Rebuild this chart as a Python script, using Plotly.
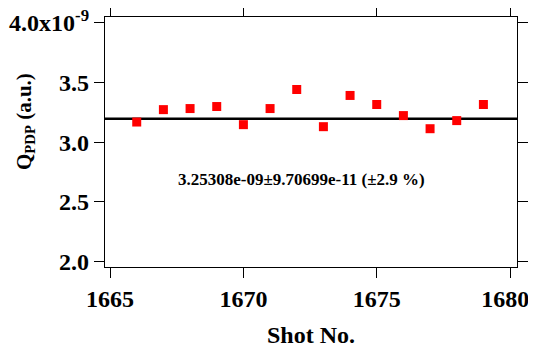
import plotly.graph_objects as go

shots = [1666, 1667, 1668, 1669, 1670, 1671, 1672, 1673, 1674, 1675, 1676, 1677, 1678, 1679]
q_pdp = [3.169e-9, 3.273e-9, 3.282e-9, 3.299e-9, 3.147e-9, 3.282e-9, 3.442e-9,
         3.130e-9, 3.392e-9, 3.316e-9, 3.223e-9, 3.113e-9, 3.181e-9, 3.316e-9]
fit_level = 3.197e-9
fit_text = "3.25308e-09±9.70699e-11 (±2.9 %)"
x_ticks = [1665, 1670, 1675, 1680]
x_ticktext = ["1665", "1670", "1675", "1680\u2009\u2009"]
y_ticks = [2.0e-9, 2.5e-9, 3.0e-9, 3.5e-9, 4.0e-9]
y_ticktext = ["2.0", "2.5", "3.0", "3.5", "4.0x10<sup>-9</sup>"]
x_range = [1664.81, 1680.26]
y_range = [1.953e-9, 4.05e-9]

font_family = "Liberation Serif"

fig = go.Figure()
fig.add_trace(go.Scatter(
    x=x_range, y=[fit_level, fit_level], mode="lines",
    line=dict(color="black", width=2.5), showlegend=False, hoverinfo="skip"))
fig.add_trace(go.Scatter(
    x=shots, y=q_pdp, mode="markers",
    marker=dict(symbol="square", size=9, color="#ff0000", line=dict(width=0)),
    showlegend=False))

fig.add_annotation(x=1672.18, y=2.685e-9, text="<b>" + fit_text + "</b>", showarrow=False,
                   font=dict(family=font_family, size=17, color="black"),
                   xanchor="center", yanchor="middle")

# axis titles as paper annotations
fig.add_annotation(xref="paper", yref="paper", x=0.5, y=0, yshift=-68,
                   text="<b>Shot No.</b>", showarrow=False,
                   font=dict(family=font_family, size=24, color="black"),
                   xanchor="center", yanchor="middle")
fig.add_annotation(xref="paper", yref="paper", x=0, xshift=-80, y=0.5, yshift=20,
                   text="<b>Q<sub>PDP</sub> (a.u.)</b>", showarrow=False, textangle=-90,
                   font=dict(family=font_family, size=21, color="black"),
                   xanchor="center", yanchor="middle")

axis_common = dict(
    showgrid=False, zeroline=False, showline=True, linecolor="black", linewidth=1.3,
    mirror="allticks", ticks="outside", ticklen=10, tickwidth=1.3, tickcolor="black",
    tickfont=dict(family=font_family, size=24, color="black", weight="bold"), automargin=False,
    ticklabeloverflow="allow",
)

fig.update_xaxes(range=x_range, tickvals=x_ticks, ticktext=x_ticktext, **axis_common)
fig.update_yaxes(range=y_range, tickvals=y_ticks, ticktext=y_ticktext, **axis_common)

# page body has an 8px default margin; size the figure to fill the rest of the window
fig.update_layout(
    width=528, height=341,
    margin=dict(l=97, r=19, t=9, b=82),
    paper_bgcolor="white", plot_bgcolor="white",
)

fig.write_html("out.html")
